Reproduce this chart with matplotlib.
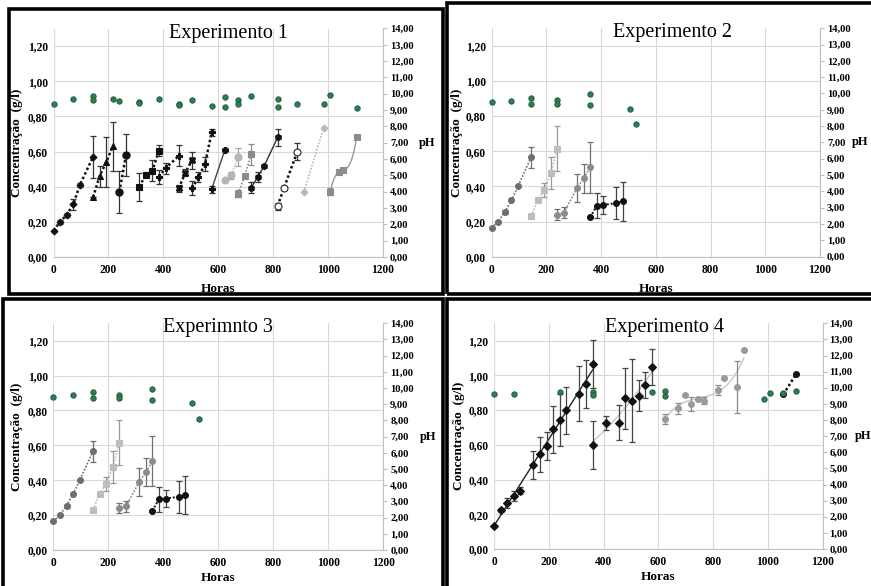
import numpy as np
import matplotlib
matplotlib.use('Agg')
import matplotlib.pyplot as plt
from matplotlib.ticker import FuncFormatter
from matplotlib.patches import Rectangle

plt.rcParams['font.family'] = ['Liberation Serif', 'DejaVu Serif']

# ---------------- data ----------------
titles = ["Experimento 1", "Experimento 2", "Experimnto 3", "Experimento 4"]
x_label = "Horas"
y_label = "Concentração  (g/l)"
y2_label = "pH"
x_ticks = [0, 200, 400, 600, 800, 1000, 1200]
y_ticks = [0.0, 0.2, 0.4, 0.6, 0.8, 1.0, 1.2]
y2_ticks = list(range(0, 15))

# Experimento 1 – concentration series
e1_a_x = [0, 24, 48, 72, 96, 144]
e1_a_y = [0.15, 0.20, 0.24, 0.30, 0.41, 0.57]
e1_a_err = [0.0, 0.01, 0.01, 0.03, 0.01, 0.12]
e1_b_x = [144, 168, 192, 216]
e1_b_y = [0.34, 0.46, 0.54, 0.63]
e1_b_err = [0.0, 0.06, 0.14, 0.14]
e1_c_x = [240, 264]
e1_c_y = [0.37, 0.58]
e1_c_err = [0.12, 0.12]
e1_d_x = [312, 336, 360, 384]
e1_d_y = [0.40, 0.465, 0.49, 0.605]
e1_d_err = [0.08, 0.01, 0.06, 0.03]
e1_e_x = [384, 408, 456]
e1_e_y = [0.455, 0.505, 0.575]
e1_e_err = [0.04, 0.03, 0.06]
e1_f_x = [456, 480, 504]
e1_f_y = [0.39, 0.48, 0.55]
e1_f_err = [0.02, 0.02, 0.05]
e1_g_x = [504, 528, 552, 576]
e1_g_y = [0.39, 0.455, 0.53, 0.71]
e1_g_err = [0.04, 0.03, 0.04, 0.02]
e1_h_x = [576, 624]
e1_h_y = [0.385, 0.61]
e1_h_err = [0.02, 0.01]
e1_i_x = [624, 648, 672]
e1_i_y = [0.44, 0.465, 0.57]
e1_i_err = [0.0, 0.02, 0.05]
e1_j_x = [672, 696, 720]
e1_j_y = [0.36, 0.46, 0.585]
e1_j_err = [0.02, 0.0, 0.06]
e1_k_x = [720, 744, 768, 816]
e1_k_y = [0.395, 0.455, 0.52, 0.68]
e1_k_err = [0.03, 0.03, 0.0, 0.05]
e1_l_x = [816, 840, 888]
e1_l_y = [0.29, 0.395, 0.60]
e1_l_err = [0.02, 0.01, 0.05]
e1_m_x = [912, 984]
e1_m_y = [0.37, 0.735]
e1_m_err = [0.0, 0.0]
e1_n_x = [1008, 1040, 1056, 1104]
e1_n_y = [0.37, 0.485, 0.495, 0.685]
e1_n_err = [0.02, 0.01, 0.01, 0.0]
# Experimento 1 – pH
e1_ph_x = [0, 72, 144, 144, 216, 240, 312, 312, 384, 456, 456, 504, 576, 624,
           624, 672, 672, 720, 816, 816, 888, 984, 1008, 1104]
e1_ph_y = [9.35, 9.70, 9.85, 9.62, 9.65, 9.55, 9.48, 9.42, 9.70, 9.35, 9.30,
           9.60, 9.25, 9.80, 9.20, 9.60, 9.40, 9.85, 9.70, 9.20, 9.35, 9.40,
           9.92, 9.12]

# Experimento 2 – concentration series
e2_a_x = [0, 24, 48, 72, 96, 144]
e2_a_y = [0.165, 0.20, 0.255, 0.32, 0.40, 0.565]
e2_a_err = [0.0, 0.0, 0.01, 0.0, 0.0, 0.06]
e2_b_x = [144, 168, 192, 216, 240]
e2_b_y = [0.23, 0.32, 0.38, 0.475, 0.615]
e2_b_err = [0.0, 0.01, 0.04, 0.09, 0.13]
e2_c_x = [240, 264, 312, 336, 360]
e2_c_y = [0.24, 0.25, 0.39, 0.445, 0.51]
e2_c_err = [0.03, 0.03, 0.08, 0.08, 0.145]
e2_d_x = [360, 384, 408, 456, 480]
e2_d_y = [0.225, 0.29, 0.295, 0.305, 0.315]
e2_d_err = [0.005, 0.07, 0.05, 0.09, 0.11]
e2_ph_x = [0, 72, 144, 144, 240, 240, 360, 360, 504, 528]
e2_ph_y = [9.45, 9.55, 9.75, 9.38, 9.60, 9.38, 9.95, 9.27, 9.07, 8.12]

# Experimento 3 (reads identical to Experimento 2)
e3_a_x, e3_a_y, e3_a_err = e2_a_x, e2_a_y, e2_a_err
e3_b_x, e3_b_y, e3_b_err = e2_b_x, e2_b_y, e2_b_err
e3_c_x, e3_c_y, e3_c_err = e2_c_x, e2_c_y, e2_c_err
e3_d_x, e3_d_y, e3_d_err = e2_d_x, e2_d_y, e2_d_err
e3_ph_x, e3_ph_y = e2_ph_x, e2_ph_y

# Experimento 4 – concentration series
e4_a_x = [0, 24, 48, 72, 96, 144, 168, 192, 216, 240, 264, 312, 336, 360]
e4_a_y = [0.135, 0.225, 0.265, 0.305, 0.335, 0.485, 0.545, 0.595, 0.69,
          0.745, 0.80, 0.895, 0.95, 1.065]
e4_a_err = [0.0, 0.01, 0.03, 0.03, 0.02, 0.08, 0.10, 0.08, 0.135, 0.15,
            0.135, 0.16, 0.14, 0.14]
e4_b_x = [360, 408, 456, 480, 504, 528, 552, 576]
e4_b_y = [0.60, 0.728, 0.728, 0.868, 0.855, 0.883, 0.945, 1.047]
e4_b_err = [0.14, 0.04, 0.10, 0.175, 0.24, 0.09, 0.075, 0.105]
e4_c_x = [624, 672, 696, 720, 744, 768, 816, 840, 888, 912]
e4_c_y = [0.75, 0.81, 0.885, 0.835, 0.865, 0.855, 0.915, 0.985, 0.935, 1.145]
e4_c_err = [0.03, 0.03, 0.0, 0.04, 0.01, 0.02, 0.03, 0.0, 0.15, 0.0]
e4_d_x = [1056, 1104]
e4_d_y = [0.89, 1.01]
e4_d_err = [0.0, 0.0]
e4_ph_x = [0, 72, 240, 360, 360, 576, 624, 624, 984, 1008, 1056, 1104]
e4_ph_y = [9.63, 9.63, 9.72, 9.72, 9.55, 9.75, 9.80, 9.50, 9.28, 9.70, 9.70, 9.80]

# ---------------- styles ----------------
BLK = '#111111'
DOT = (0, (1, 1))
def st(color, marker, ms, ls, lw, lc=None, ecol=None, fit=None, mfc=None):
    return dict(color=color, marker=marker, ms=ms, ls=ls, lw=lw,
                lc=lc or color, ecol=ecol or color, fit=fit, mfc=mfc or color)

panel_series = [
    [(e1_a_x, e1_a_y, e1_a_err, st(BLK, 'D', 3.5, DOT, 1.8, ecol='#333333')),
     (e1_b_x, e1_b_y, e1_b_err, st(BLK, '^', 3.8, DOT, 1.8, ecol='#333333')),
     (e1_c_x, e1_c_y, e1_c_err, st(BLK, 'o', 5.2, DOT, 1.8, ecol='#333333')),
     (e1_d_x, e1_d_y, e1_d_err, st(BLK, 's', 5, DOT, 1.8, ecol='#333333')),
     (e1_e_x, e1_e_y, e1_e_err, st(BLK, 'P', 4.5, DOT, 1.8, ecol='#333333')),
     (e1_f_x, e1_f_y, e1_f_err, st(BLK, 'X', 4.5, DOT, 1.8, ecol='#333333')),
     (e1_g_x, e1_g_y, e1_g_err, st(BLK, 'P', 4.5, DOT, 1.8, ecol='#333333')),
     (e1_h_x, e1_h_y, e1_h_err, st(BLK, 'P', 4.5, '-', 1.0, lc='#444444', ecol='#333333')),
     (e1_i_x, e1_i_y, e1_i_err, st('#b5b5b5', 'o', 5, DOT, 1.0, ecol='#a0a0a0')),
     (e1_j_x, e1_j_y, e1_j_err, st('#8c8c8c', 's', 4.2, DOT, 1.2, ecol='#8c8c8c')),
     (e1_k_x, e1_k_y, e1_k_err, st(BLK, 'h', 4.5, '-', 1.0, lc='#333333', ecol='#333333')),
     (e1_l_x, e1_l_y, e1_l_err, st(BLK, 'o', 5, DOT, 1.8, ecol='#333333', mfc='white')),
     (e1_m_x, e1_m_y, e1_m_err, st('#b8b8b8', 'D', 3.5, DOT, 1.2)),
     (e1_n_x, e1_n_y, e1_n_err, st('#8c8c8c', 's', 4.2, '-', 1.0, lc='#9a9a9a', fit=3))],
    [(e2_a_x, e2_a_y, e2_a_err, st('#6e6e6e', 'o', 4.2, DOT, 1.2)),
     (e2_b_x, e2_b_y, e2_b_err, st('#bdbdbd', 's', 4.2, DOT, 1.2, ecol='#999999')),
     (e2_c_x, e2_c_y, e2_c_err, st('#8c8c8c', 'o', 4.2, DOT, 1.2, ecol='#707070')),
     (e2_d_x, e2_d_y, e2_d_err, st(BLK, 'o', 4.2, DOT, 1.4, ecol='#444444'))],
    [(e3_a_x, e3_a_y, e3_a_err, st('#6e6e6e', 'o', 4.2, DOT, 1.2)),
     (e3_b_x, e3_b_y, e3_b_err, st('#bdbdbd', 's', 4.2, DOT, 1.2, ecol='#999999')),
     (e3_c_x, e3_c_y, e3_c_err, st('#8c8c8c', 'o', 4.2, DOT, 1.2, ecol='#707070')),
     (e3_d_x, e3_d_y, e3_d_err, st(BLK, 'o', 4.2, DOT, 1.4, ecol='#444444'))],
    [(e4_a_x, e4_a_y, e4_a_err, st(BLK, 'D', 4, '-', 1.0, lc='#222222', ecol='#444444', fit=1)),
     (e4_b_x, e4_b_y, e4_b_err, st(BLK, 'D', 4, '-', 1.0, lc='#c8c8c8', ecol='#444444', fit=2)),
     (e4_c_x, e4_c_y, e4_c_err, st('#9a9a9a', 'o', 4.2, '-', 1.0, lc='#c8c8c8', ecol='#8a8a8a', fit=3)),
     (e4_d_x, e4_d_y, e4_d_err, st(BLK, 'o', 4.2, DOT, 1.8))],
]
panel_ph = [(e1_ph_x, e1_ph_y), (e2_ph_x, e2_ph_y), (e3_ph_x, e3_ph_y), (e4_ph_x, e4_ph_y)]

# ---------------- layout (pixels) ----------------
W, H = 871, 586
axes_px = [(53.5, 257, 383, 28.5), (491.7, 256.7, 820, 28.2),
           (53.3, 550, 383.3, 323.3), (494, 549, 822.7, 323.3)]
frames_px = [(9, 9, 443, 294), (447, 3, 880, 294), (3, 299, 443, 592), (447, 299, 880, 592)]
title_x = [0.53, 0.55, 0.50, 0.52]
ylabel_x = [-0.092, -0.088, -0.092, -0.088]
xlabel_pad = [5, 5, 2, 2]
ph_x = [1.135, 1.122, 1.135, 1.122]

fig = plt.figure(figsize=(W / 100, H / 100), dpi=100)
fig.patch.set_facecolor('white')

for (x0, y0, x1, y1) in frames_px:
    fig.patches.append(Rectangle((x0 / W, 1 - y1 / H), (x1 - x0) / W, (y1 - y0) / H,
                                 transform=fig.transFigure, fill=False,
                                 edgecolor='black', lw=2.6, zorder=0))

comma2 = FuncFormatter(lambda v, p: f"{v:.2f}".replace('.', ','))
tick_font = dict(family='Liberation Serif', weight='bold', size=8.3)
tick_font_r = dict(family='Liberation Serif', weight='bold', size=7.6)

for i in range(4):
    l, b, r, t = axes_px[i]
    ax = fig.add_axes([l / W, 1 - b / H, (r - l) / W, (b - t) / H])
    ax.set_xlim(0, 1200)
    ax.set_ylim(0, 1.3)
    ax.set_xticks(x_ticks)
    ax.set_yticks(y_ticks)
    ax.yaxis.set_major_formatter(comma2)
    ax.grid(True, color='#d9d9d9', lw=0.8)
    ax.set_axisbelow(True)
    for s in ['top', 'left', 'right']:
        ax.spines[s].set_visible(False)
    ax.spines['bottom'].set_color('#bfbfbf')
    ax.tick_params(axis='both', length=0)
    ax.tick_params(axis='y', pad=4)
    ax.tick_params(axis='x', pad=5)
    for lab in ax.get_xticklabels() + ax.get_yticklabels():
        lab.set_fontproperties(tick_font)
    ax.set_xlabel(x_label, fontweight='bold', fontsize=9.5, labelpad=xlabel_pad[i])
    ax.set_ylabel(y_label, fontweight='bold', fontsize=9.5)
    ax.yaxis.set_label_coords(ylabel_x[i], 0.5)
    ax.text(title_x[i], 0.98, titles[i], transform=ax.transAxes, ha='center',
            va='center', fontsize=14.5)

    for xs, ys, es, sd in panel_series[i]:
        xs = np.asarray(xs, float); ys = np.asarray(ys, float)
        if sd['fit']:
            coef = np.polyfit(xs, ys, sd['fit'])
            xx = np.linspace(xs.min(), xs.max(), 100)
            ax.plot(xx, np.polyval(coef, xx), color=sd['lc'], ls=sd['ls'], lw=sd['lw'], zorder=2)
        else:
            ax.plot(xs, ys, color=sd['lc'], ls=sd['ls'], lw=sd['lw'], zorder=2)
        ax.errorbar(xs, ys, yerr=es, fmt='none', ecolor=sd['ecol'], elinewidth=0.9,
                    capsize=2, capthick=0.9, zorder=3)
        ax.plot(xs, ys, ls='none', marker=sd['marker'], ms=sd['ms'], color=sd['color'],
                mfc=sd['mfc'], mec=sd['color'] if sd['mfc'] != 'white' else '#222222',
                mew=0.8, zorder=4, clip_on=False)

    ax2 = ax.twinx()
    ax2.set_ylim(0, 14)
    ax2.set_yticks(y2_ticks)
    ax2.yaxis.set_major_formatter(comma2)
    for s in ['top', 'left', 'bottom']:
        ax2.spines[s].set_visible(False)
    ax2.spines['right'].set_color('#bfbfbf')
    ax2.tick_params(axis='y', length=3, color='#bfbfbf', pad=2)
    for lab in ax2.get_yticklabels():
        lab.set_fontproperties(tick_font_r)
    phx, phy = panel_ph[i]
    ax2.plot(phx, phy, ls='none', marker='o', ms=3.9, color='#2e7d4f', mec='#1d5a38',
             mew=0.6, zorder=5, clip_on=False)
    ax2.text(ph_x[i], 0.5, y2_label, transform=ax2.transAxes, ha='center', va='center',
             fontweight='bold', fontsize=9)

fig.savefig('out.png', dpi=100, facecolor='white')
